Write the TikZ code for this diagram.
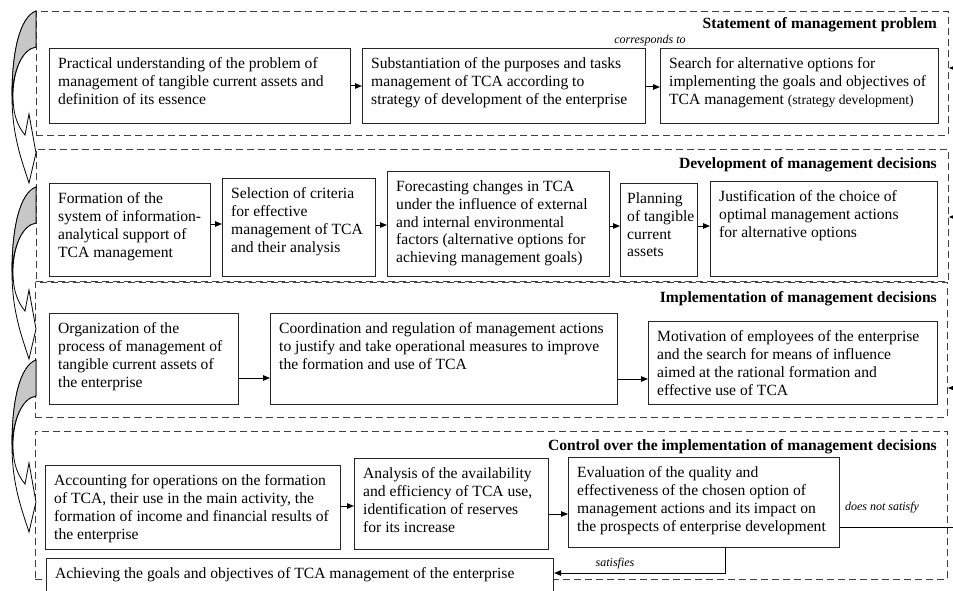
\documentclass[tikz,border=0pt]{standalone}
\usepackage{fontspec}
\setmainfont{Liberation Serif}
\usetikzlibrary{arrows.meta}
\newcommand\mybox[7][9]{%
  \node[box, minimum width={#5-#3}, minimum height={#6-#4}] (#2) at (#3,#4) {};
  \node[txt] (#2t) at ({#3+#1},{#4+9.5}) {#7};%
}
\newcommand\myregion[5]{%
  \node[region, minimum width={#4-#2}, minimum height={#5-#3}] (#1) at (#2,#3) {};%
}
\begin{document}
\begin{tikzpicture}[x=1pt,y=-1pt,
  region/.style={draw=black!75, dash pattern=on 7pt off 4pt, line width=0.9pt, inner sep=0pt, anchor=north west},
  box/.style={draw=black!85, fill=white, line width=1.1pt, inner sep=0pt, anchor=north west},
  txt/.style={inner sep=0pt, anchor=north west, align=left, font=\fontsize{15.6}{17.8}\selectfont},
  ttl/.style={inner sep=0pt, anchor=base east, font=\fontsize{15.6}{17.8}\selectfont\bfseries},
  lbl/.style={inner sep=0pt, font=\fontsize{12}{14}\selectfont\itshape},
  arr/.style={-{Triangle[length=7pt,width=5.5pt]}, line width=1pt},
  ln/.style={line width=1pt},
  curv/.style={draw=black, line width=0.8pt, fill=white},
]
\useasboundingbox (0,0) rectangle (953,591);

% regions
\myregion{r1}{36}{11}{948}{135}
\myregion{r2}{36}{149}{948}{281}
\myregion{r3}{35}{282}{947}{417}
\myregion{r4}{35}{431}{947}{579}
\node[ttl] (r1t) at (937,29) {Statement of management problem};
\node[ttl] (r2t) at (937,168) {Development of management decisions};
\node[ttl] (r3t) at (937,302) {Implementation of management decisions};
\node[ttl] (r4t) at (937,450) {Control over the implementation of management decisions};

% curved arrows on the left
\foreach \t in {11,187,360}{
  \begin{scope}[shift={(0,\t)}]
    \path[curv] (36,0) .. controls (20,6) and (12,40) .. (12,85)
      .. controls (12,125) and (22,150) .. (29,172) -- (36,142) -- (29,103) -- (25,124)
      .. controls (15,112) and (13,98) .. (13,85)
      .. controls (13,60) and (22,38) .. (36,36) -- cycle;
    \path[curv, fill=black!22] (36,0) .. controls (20,6) and (12,40) .. (12,85)
      .. controls (13,60) and (22,38) .. (36,36) -- cycle;
  \end{scope}
}

% row 1
\mybox{a1}{49}{48}{350}{123}{Practical understanding of the problem of\\ management of tangible current assets and\\ definition of its essence}
\mybox{a2}{362}{48}{645}{123}{Substantiation of the purposes and tasks\\ management of TCA according to\\ strategy of development of the enterprise}
\mybox{a3}{660}{48}{938}{123}{Search for alternative options for\\ implementing the goals and objectives of\\ TCA management {\fontsize{13.6}{17.8}\selectfont(strategy development)}}
\draw[arr] (a1.east |- 0,86) -- (a2.west |- 0,86);
\draw[arr] (a2.east |- 0,87) -- (a3.west |- 0,87);
\node[lbl] (lcor) at (650,41) {corresponds to};

% row 2
\mybox{b1}{49}{183}{210}{276}{Formation of the\\ system of information-\\ analytical support of\\ TCA management}
\mybox{b2}{222}{178}{375}{276}{Selection of criteria\\ for effective\\ management of TCA\\ and their analysis}
\mybox{b3}{387}{171}{609}{276}{Forecasting changes in TCA\\ under the influence of external\\ and internal environmental\\ factors (alternative options for\\ achieving management goals)}
\mybox[7]{b4}{620}{183}{697}{276}{Planning\\ of tangible\\ current\\ assets}
\mybox{b5}{710}{181}{937}{276}{Justification of the choice of\\ optimal management actions\\ for alternative options}
\draw[arr] (b1.east |- 0,224) -- (b2.west |- 0,224);
\draw[arr] (b2.east |- 0,225) -- (b3.west |- 0,225);
\draw[arr] (b3.east |- 0,226) -- (b4.west |- 0,226);
\draw[arr] (b4.east |- 0,226) -- (b5.west |- 0,226);

% row 3
\mybox{c1}{49}{313}{238}{404}{Organization of the\\ process of management of\\ tangible current assets of\\ the enterprise}
\mybox{c2}{270}{313}{617}{404}{Coordination and regulation of management actions\\ to justify and take operational measures to improve\\ the formation and use of TCA}
\mybox{c3}{648}{321}{937}{404}{Motivation of employees of the enterprise\\ and the search for means of influence\\ aimed at the rational formation and\\ effective use of TCA}
\draw[arr] (c1.east |- 0,378) -- (c2.west |- 0,378);
\draw[arr] (c2.east |- 0,379) -- (c3.west |- 0,379);

% row 4
\mybox{d1}{45}{465}{340}{549}{Accounting for operations on the formation\\ of TCA, their use in the main activity, the\\ formation of income and financial results of\\ the enterprise}
\mybox{d2}{354}{458}{548}{549}{Analysis of the availability\\ and efficiency of TCA use,\\ identification of reserves\\ for its increase}
\mybox{d3}{568}{457}{839}{547}{Evaluation of the quality and\\ effectiveness of the chosen option of\\ management actions and its impact on\\ the prospects of enterprise development}
\mybox{e}{46}{558}{553}{610}{Achieving the goals and objectives of TCA management of the enterprise}
\draw[arr] (d1.east |- 0,506) -- (d2.west |- 0,506);
\draw[arr] (d2.east |- 0,514) -- (d3.west |- 0,514);

% satisfies
\draw[arr] (725,0 |- d3.south) -- (725,573) -- (e.east |- 0,573);
\node[lbl] (lsat) at (615,564) {satisfies};

% does not satisfy feedback
\coordinate (fbx) at (953.5,527);
\draw[ln] (d3.east |- fbx) -- (fbx) -- (fbx |- 0,68);
\draw[arr] (fbx |- 0,68) -- (r1.east |- 0,68);
\draw[arr] (fbx |- 0,217) -- (r2.east |- 0,217);
\draw[arr] (fbx |- 0,388) -- (r3.east |- 0,388);
\node[lbl] (lnot) at (882,508) {does not satisfy};
\end{tikzpicture}
\end{document}
